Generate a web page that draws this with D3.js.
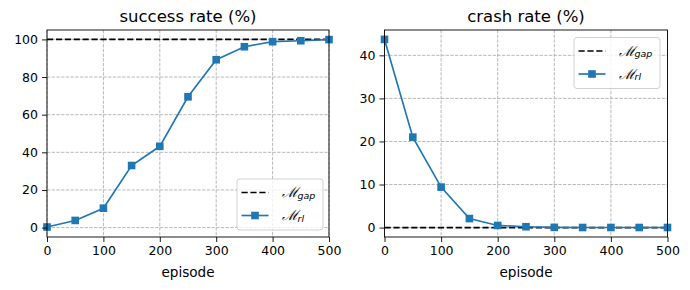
<!DOCTYPE html>
<html><head><meta charset="utf-8">
<script src="https://cdn.jsdelivr.net/npm/d3@7"></script>
<style>body{margin:0;background:#fff}svg{display:block}text{font-family:"DejaVu Sans",sans-serif}</style>
</head><body>
<svg id="c" width="690" height="290"></svg>
<script>
const episodes = [0,50,100,150,200,250,300,350,400,450,500];
const successRl = [0.3,3.8,10.3,33.0,43.2,69.5,89.2,96.1,98.8,99.3,99.9];
const successGap = 100;
const crashRl = [43.7,21.0,9.4,2.1,0.5,0.2,0.05,0.02,0.02,0.02,0.02];
const crashGap = 0;
const xTicks = [0,100,200,300,400,500];
const successTicks = [0,20,40,60,80,100];
const crashTicks = [0,10,20,30,40];

const svg = d3.select("#c");
const blue = "#1f77b4";

function panel(opt){
  const g = svg.append("g");
  const x = d3.scaleLinear().domain([0,500]).range([opt.x0,opt.x1]);
  const y = d3.scaleLinear().domain(opt.yDomain).range([opt.y1,opt.y0]);
  g.selectAll(".gx").data(xTicks).join("line")
    .attr("x1",d=>x(d)).attr("x2",d=>x(d)).attr("y1",opt.y0).attr("y2",opt.y1)
    .attr("stroke","#b0b0b0").attr("stroke-width",0.9).attr("stroke-dasharray","3.3,1.4");
  g.selectAll(".gy").data(opt.yTicks).join("line")
    .attr("x1",opt.x0).attr("x2",opt.x1).attr("y1",d=>y(d)).attr("y2",d=>y(d))
    .attr("stroke","#b0b0b0").attr("stroke-width",0.9).attr("stroke-dasharray","3.3,1.4");
  g.append("line").attr("x1",opt.x0).attr("x2",opt.x1).attr("y1",y(opt.gap)).attr("y2",y(opt.gap))
    .attr("stroke","#000").attr("stroke-width",1.67).attr("stroke-dasharray","6.2,2.7");
  const line = d3.line().x((d,i)=>x(episodes[i])).y(d=>y(d));
  g.append("path").datum(opt.rl).attr("d",line).attr("fill","none").attr("stroke",blue).attr("stroke-width",1.67);
  g.selectAll(".m").data(opt.rl).join("rect")
    .attr("x",(d,i)=>x(episodes[i])-3.8).attr("y",d=>y(d)-3.8).attr("width",7.6).attr("height",7.6)
    .attr("fill",blue);
  g.append("rect").attr("x",opt.x0).attr("y",opt.y0).attr("width",opt.x1-opt.x0).attr("height",opt.y1-opt.y0)
    .attr("fill","none").attr("stroke","#000").attr("stroke-width",0.9);
  const ax = g.append("g").attr("transform",`translate(0,${opt.y1})`)
    .call(d3.axisBottom(x).tickValues(xTicks).tickSize(5).tickPadding(4.5));
  const ay = g.append("g").attr("transform",`translate(${opt.x0},0)`)
    .call(d3.axisLeft(y).tickValues(opt.yTicks).tickSize(5).tickPadding(4));
  [ax,ay].forEach(a=>{
    a.select(".domain").remove();
    a.selectAll("line").attr("stroke","#000").attr("stroke-width",0.9);
    a.selectAll("text").attr("font-size","12.5px").attr("fill","#000").attr("font-family","DejaVu Sans");
  });
  g.append("text").attr("x",(opt.x0+opt.x1)/2).attr("y",277).attr("text-anchor","middle")
    .attr("font-size","13.6px").text("episode");
  g.append("text").attr("x",(opt.x0+opt.x1)/2).attr("y",22).attr("text-anchor","middle")
    .attr("font-size","16.5px").text(opt.title);
  const L = g.append("g").attr("transform",`translate(${opt.lx},${opt.ly})`);
  L.append("rect").attr("width",86).attr("height",51).attr("rx",3)
    .attr("fill","rgba(255,255,255,0.8)").attr("stroke","#cccccc").attr("stroke-width",0.9);
  L.append("line").attr("x1",4.5).attr("x2",31.5).attr("y1",13.5).attr("y2",13.5)
    .attr("stroke","#000").attr("stroke-width",1.67).attr("stroke-dasharray","6.2,2.7");
  L.append("line").attr("x1",4.5).attr("x2",31.5).attr("y1",36.5).attr("y2",36.5)
    .attr("stroke",blue).attr("stroke-width",1.67);
  L.append("rect").attr("x",18-3.8).attr("y",36.5-3.8).attr("width",7.6).attr("height",7.6).attr("fill",blue);
  const labels = ["gap","rl"];
  labels.forEach((s,i)=>{
    const t = L.append("text").attr("x",44.5).attr("y",18+i*23).attr("font-size","14px");
    t.append("tspan").attr("font-family","DejaVu Serif").attr("font-style","italic").text("ℳ");
    t.append("tspan").attr("font-size","9.5px").attr("font-style","italic").attr("dy",1.5).text(s);
  });
}

panel({x0:47,x1:329,y0:30,y1:237,yDomain:[-5,105],yTicks:successTicks,rl:successRl,gap:successGap,
  title:"success rate (%)",lx:237,ly:179});
panel({x0:384.5,x1:667.5,y0:30,y1:237,yDomain:[-2.185,45.885],yTicks:crashTicks,rl:crashRl,gap:crashGap,
  title:"crash rate (%)",lx:574,ly:37.5});
</script>
</body></html>
